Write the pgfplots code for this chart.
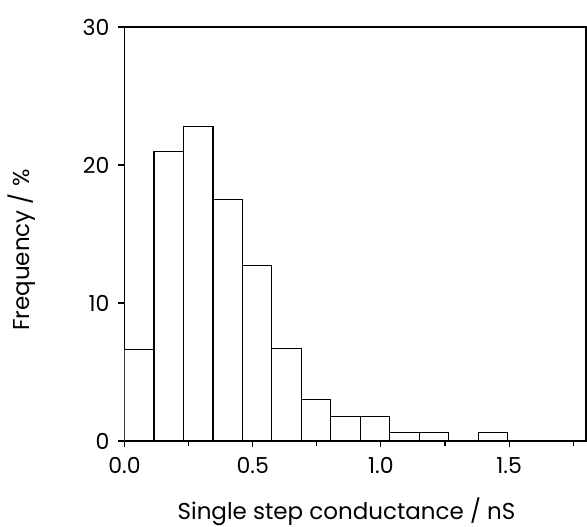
\documentclass[border=0pt]{standalone}
\usepackage{fontspec}
\setmainfont{Poppins}
\usepackage{pgfplots}
\pgfplotsset{compat=1.18}
\begin{document}
\begin{tikzpicture}
\useasboundingbox (-62.25pt,-42.5pt) rectangle (231.25pt,220.5pt);
\begin{axis}[
  scale only axis,
  width=230.75pt, height=207pt,
  xmin=0, xmax=1.8, ymin=0, ymax=30,
  axis line style={line width=0.55pt},
  tick style={line width=0.55pt, black},
  tick align=outside, tick pos=left,
  major tick length=3pt, minor tick length=2.5pt,
  xtick={0,0.5,1,1.5}, xticklabels={0.0,0.5,1.0,1.5},
  minor xtick={0.25,0.75,1.25,1.75},
  ytick={0,10,20,30}, yticklabels={0,10,20,30},
  ticklabel style={font=\fontsize{11pt}{13pt}\selectfont},
  label style={font=\fontsize{11.5pt}{14pt}\selectfont},
  xticklabel style={yshift=-1.5pt},
  yticklabel style={xshift=-1pt},
  xlabel={Single step conductance / nS},
  ylabel={Frequency / \%},
  xlabel style={at={(axis description cs:0.481,-0.1884)}, anchor=base},
  ylabel style={at={(axis description cs:-0.2048,0.461)}, anchor=base},
]
\addplot[ybar interval, fill=white, draw=black, line width=0.55pt] coordinates {
(0.000,6.6) (0.115,21.0) (0.230,22.8) (0.345,17.5) (0.460,12.7)
(0.575,6.7) (0.690,3.0) (0.805,1.8) (0.920,1.8) (1.035,0.6)
(1.150,0.6) (1.265,0) (1.380,0.6) (1.495,0)
};
\end{axis}
\end{tikzpicture}
\end{document}
